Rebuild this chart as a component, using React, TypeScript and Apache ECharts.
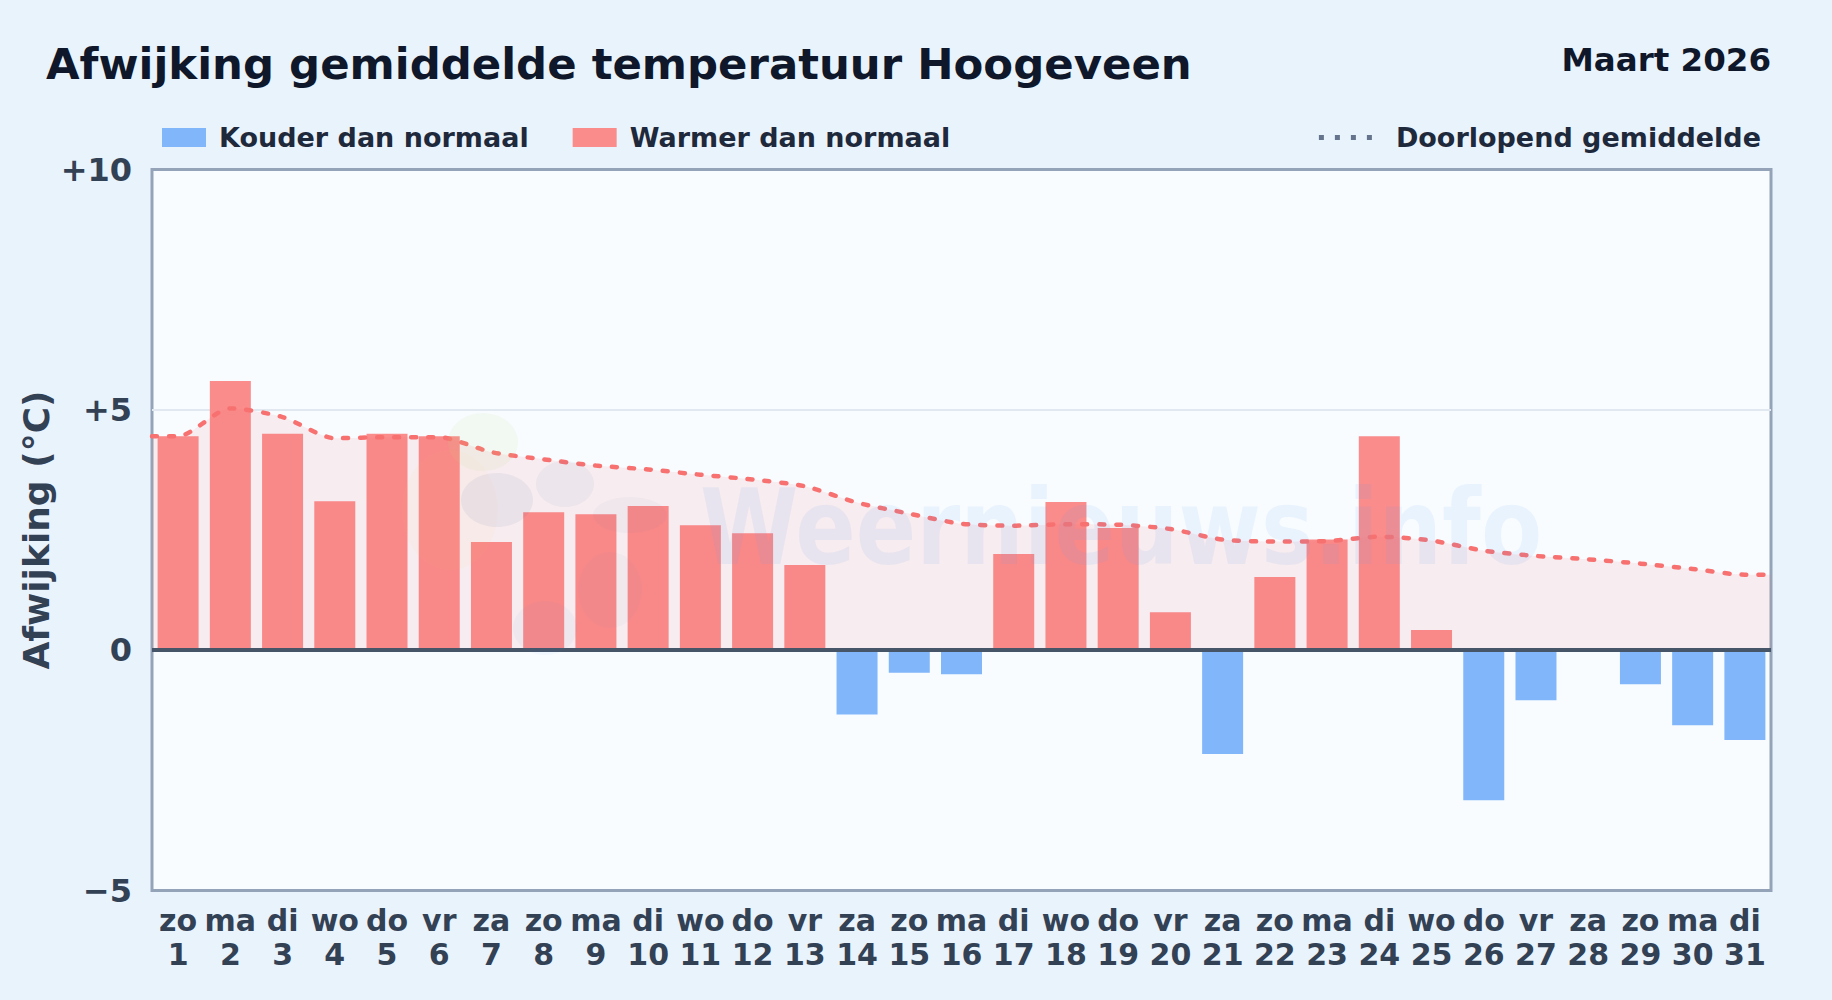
import React, { useEffect, useRef } from "react";
import * as echarts from "echarts";

const FONT = '"DejaVu Sans", sans-serif';

const weekdays = ["zo","ma","di","wo","do","vr","za","zo","ma","di","wo","do","vr","za","zo","ma","di","wo","do","vr","za","zo","ma","di","wo","do","vr","za","zo","ma","di"];
const days = ["1","2","3","4","5","6","7","8","9","10","11","12","13","14","15","16","17","18","19","20","21","22","23","24","25","26","27","28","29","30","31"];
const warmer = [4.45,5.6,4.5,3.1,4.5,4.45,2.25,2.87,2.83,3.0,2.6,2.43,1.77,null,null,null,2.0,3.08,2.54,0.79,null,1.52,2.3,4.45,0.42,null,null,null,null,null,null];
const colder = [null,null,null,null,null,null,null,null,null,null,null,null,null,-1.34,-0.47,-0.5,null,null,null,null,-2.16,null,null,null,null,-3.12,-1.04,0,-0.71,-1.56,-1.87];
const runningMean = [4.45,5.03,4.85,4.41,4.43,4.43,4.12,3.97,3.84,3.76,3.65,3.55,3.41,3.07,2.84,2.63,2.59,2.62,2.61,2.52,2.30,2.26,2.27,2.36,2.28,2.07,1.96,1.89,1.80,1.69,1.57];
const yTicks: Record<string, string> = { "10": "+10", "5": "+5", "0": "0", "-5": "\u22125" };

export default function App() {
  const ref = useRef<HTMLDivElement>(null);
  useEffect(() => {
    const chart = echarts.init(ref.current!, undefined, { renderer: "svg" });
    const meanPoints: [number, number][] = [
      [0, runningMean[0]],
      ...runningMean.map((v, i) => [i + 0.5, v] as [number, number]),
      [31, runningMean[30]],
    ];
    const wm = (cx: number, cy: number, rx: number, ry: number, fill: string) => ({
      type: "ellipse", z: 50, silent: true,
      shape: { cx, cy, rx, ry },
      style: { fill },
    });
    chart.setOption({
      animation: false,
      backgroundColor: "#E9F3FC",
      textStyle: { fontFamily: FONT },
      title: [
        { text: "Afwijking gemiddelde temperatuur Hoogeveen", left: 46, top: 42.5, padding: 0,
          textStyle: { fontFamily: FONT, fontSize: 43.4, fontWeight: "bold", color: "#0F172A" } },
        { text: "Maart 2026", right: 61, top: 43, padding: 0,
          textStyle: { fontFamily: FONT, fontSize: 32.5, fontWeight: "bold", color: "#0F172A" } },
      ],
      legend: [
        { left: 157, top: 119, itemWidth: 44, itemHeight: 19, itemGap: 44, icon: "rect",
          data: ["Kouder dan normaal", "Warmer dan normaal"],
          textStyle: { fontFamily: FONT, fontSize: 27, fontWeight: "bold", color: "#1E293B", padding: [0, 0, 0, 8] } },
        { right: 66, top: 119, itemWidth: 58, itemHeight: 19,
          data: [{ name: "Doorlopend gemiddelde",
            lineStyle: { color: "#64748B", width: 5, type: [5, 11], cap: "butt", opacity: 1 },
            itemStyle: { opacity: 0 } }],
          textStyle: { fontFamily: FONT, fontSize: 27, fontWeight: "bold", color: "#1E293B", padding: [0, 0, 0, 14] } },
      ],
      grid: { left: 152, right: 61, top: 169.5, bottom: 109.5, show: true, backgroundColor: "#F8FCFF", borderColor: "#94A3B8", borderWidth: 3 },
      xAxis: [
        { type: "category", data: weekdays.map((w, i) => `${w}\n${days[i]}`), position: "bottom",
          axisLine: { show: false }, axisTick: { show: false }, splitLine: { show: false },
          axisLabel: { interval: 0, fontFamily: FONT, fontSize: 30, fontWeight: "bold", color: "#334155", lineHeight: 34, margin: 13 } },
        { type: "value", min: 0, max: 31, show: false },
      ],
      yAxis: {
        type: "value", min: -5, max: 10, interval: 5,
        name: "Afwijking (\u00B0C)", nameLocation: "middle", nameGap: 97.5, nameMoveOverlap: false,
        nameTextStyle: { fontFamily: FONT, fontSize: 36, fontWeight: "bold", color: "#334155" },
        axisLine: { show: false }, axisTick: { show: false },
        splitLine: { show: true, showMinLine: false, showMaxLine: false, lineStyle: { color: "#E2E8F0", width: 2 } },
        axisLabel: { fontFamily: FONT, fontSize: 32, fontWeight: "bold", color: "#334155", margin: 20,
          formatter: (v: number) => yTicks[String(v)] ?? String(v) },
      },
      series: [
        { name: "Doorlopend gemiddelde", type: "line", xAxisIndex: 1, data: meanPoints, smooth: 0.25, symbol: "none", z: 4,
          lineStyle: { color: "#F87171", width: 4.5, type: [5, 12], cap: "round" },
          areaStyle: { color: "rgba(248,113,113,0.16)" } },
        { name: "Kouder dan normaal", type: "bar", stack: "t", data: colder, barWidth: 41, z: 3,
          itemStyle: { color: "#82B6FB" } },
        { name: "Warmer dan normaal", type: "bar", stack: "t", data: warmer, barWidth: 41, z: 3,
          itemStyle: { color: "#FA8C8C" },
          markLine: { silent: true, symbol: "none", animation: false, z: 5, label: { show: false },
            lineStyle: { color: "#475569", width: 4, type: "solid" }, data: [{ yAxis: 0 }] } },
      ],
      graphic: [
        { type: "text", z: 50, silent: true, x: 700, y: 475, scaleX: 0.85,
          style: { text: "Weernieuws.info", font: `bold 105px ${FONT}`, fill: "rgba(90,150,240,0.09)" } },
        wm(483, 442, 35, 29, "rgba(190,225,120,0.09)"),
        wm(450, 510, 48, 60, "rgba(245,200,90,0.04)"),
        wm(497, 500, 36, 27, "rgba(40,70,160,0.06)"),
        wm(565, 484, 29, 23, "rgba(40,90,180,0.05)"),
        wm(630, 515, 37, 18, "rgba(40,90,180,0.03)"),
        wm(545, 628, 32, 27, "rgba(60,120,220,0.04)"),
        wm(610, 590, 32, 38, "rgba(60,120,220,0.03)"),
      ],
    });
    return () => chart.dispose();
  }, []);
  return <div ref={ref} style={{ position: "fixed", left: 0, top: 0, width: 1832, height: 1000 }} />;
}
